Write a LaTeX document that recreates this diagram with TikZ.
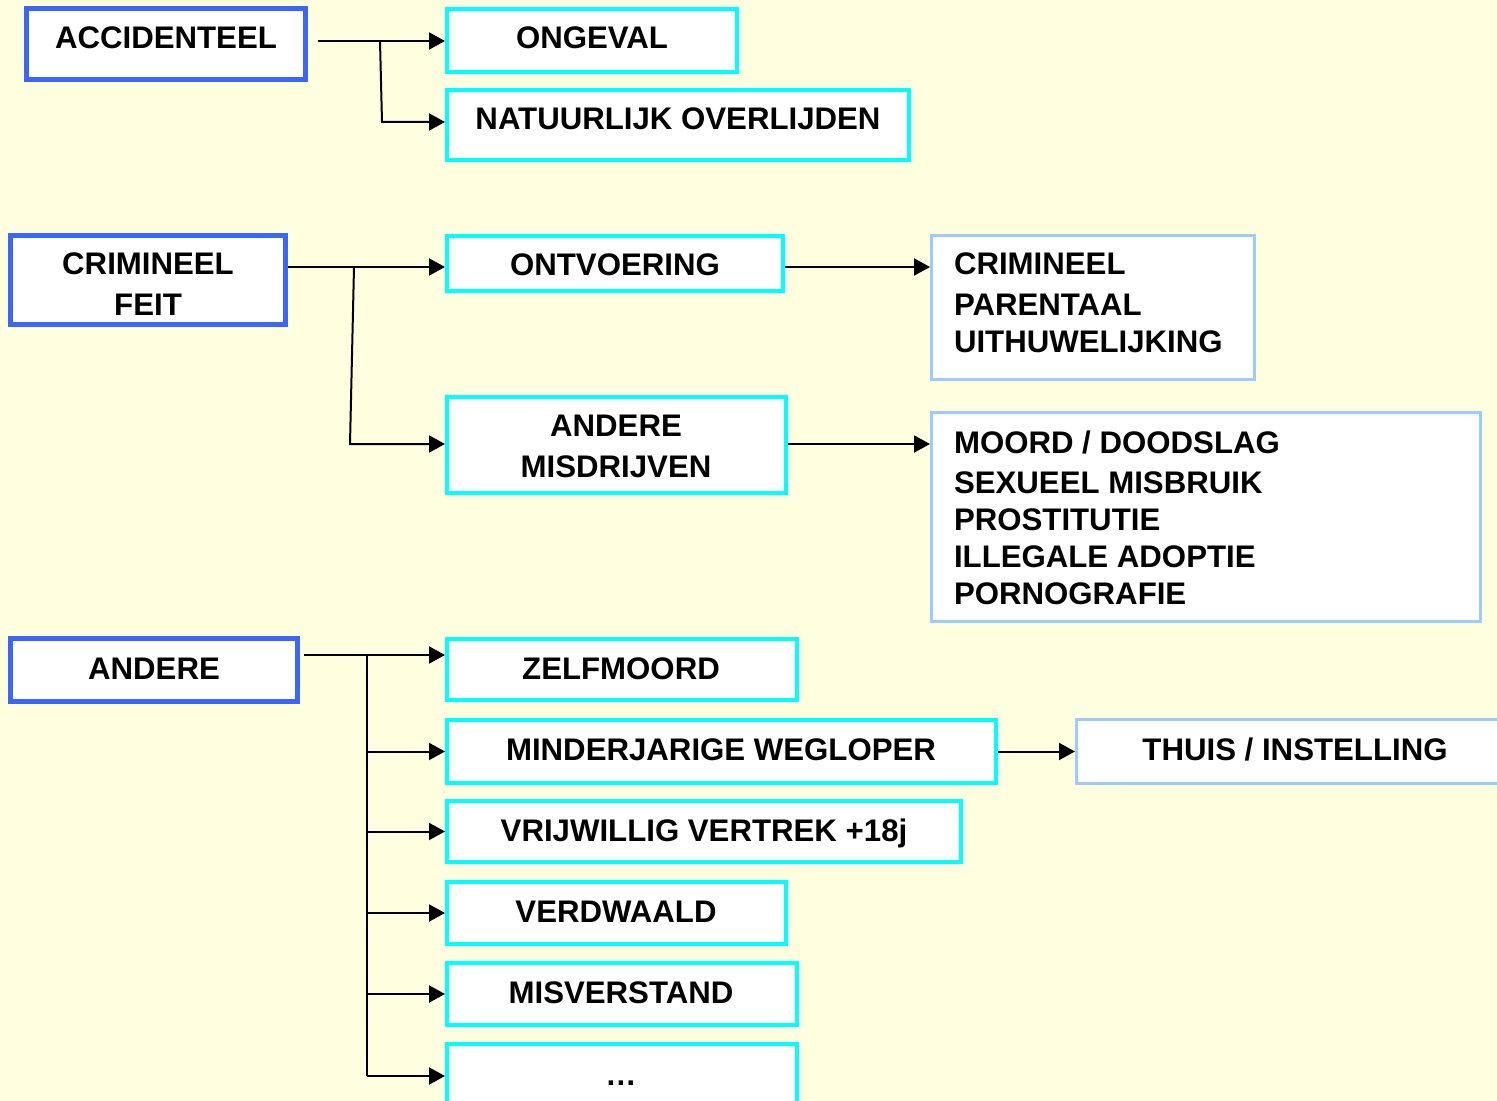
\documentclass[tikz,border=0pt]{standalone}
\usepackage{fontspec}
\setmainfont{Liberation Sans}
\usetikzlibrary{arrows.meta}

\definecolor{paper}{HTML}{FFFFE0}
\definecolor{mainblue}{HTML}{3A66FF}
\definecolor{subcyan}{HTML}{00FFFF}
\definecolor{leafblue}{HTML}{99CCFF}

\begin{document}
\begin{tikzpicture}[x=0.5pt, y=-0.5pt, line width=1pt,
  >={Triangle[length=8pt,width=8.5pt]},
  main/.style={draw=mainblue, line width=2.5pt, fill=white, inner sep=0pt},
  sub/.style={draw=subcyan, line width=2pt, fill=white, inner sep=0pt},
  leaf/.style={draw=leafblue, line width=1.5pt, fill=white, inner sep=0pt},
  txt/.style={font=\fontsize{15.6}{18}\selectfont\bfseries, inner sep=0pt, anchor=base},
  ltxt/.style={txt, anchor=base west}]
  \clip (0,0) rectangle (1497,1101);
  \fill[paper] (0,0) rectangle (1497,1101);

  % accidenteel
  \node[main, minimum width=139.5pt, minimum height=35.5pt] (acc) at (166,44) {};
  \node[sub, minimum width=145pt, minimum height=31.5pt] (ong) at (592,40.5) {};
  \node[sub, minimum width=231pt, minimum height=35pt] (nat) at (678,125) {};
  \node[txt] (acct) at (166,49) {ACCIDENTEEL};
  \node[txt] (ongt) at (592,49) {ONGEVAL};
  \node[txt] (natt) at (678,130) {NATUURLIJK OVERLIJDEN};

  \coordinate (accout) at (318,41);
  \coordinate (acctop) at (380,41);
  \coordinate (accbot) at (382,122);
  \draw[->] (accout) -- (accout -| ong.west);
  \draw[->] (acctop) -- (accbot) -- (accbot -| nat.west);

  % crimineel feit
  \node[main, minimum width=137.5pt, minimum height=44.5pt] (crim) at (148,280) {};
  \node[sub, minimum width=168pt, minimum height=27.5pt] (ontv) at (615,263.5) {};
  \node[leaf, minimum width=161.5pt, minimum height=72pt] (ontvres) at (1093,307.5) {};
  \node[sub, minimum width=169.5pt, minimum height=48pt] (misd) at (616.5,445) {};
  \node[leaf, minimum width=274.5pt, minimum height=104.5pt] (misdres) at (1206,517) {};
  \node[txt] (crimt1) at (148,275) {CRIMINEEL};
  \node[txt] (crimt2) at (148,315) {FEIT};
  \node[txt] (ontvt) at (615,276) {ONTVOERING};
  \node[txt] (misdt1) at (616,436) {ANDERE};
  \node[txt] (misdt2) at (616,477) {MISDRIJVEN};
  \foreach \y/\t [count=\i] in {275/CRIMINEEL, 315/PARENTAAL, 352/UITHUWELIJKING}
    \node[ltxt] (ontvres\i) at (953,\y) {\t};
  \foreach \y/\t [count=\i] in {453/{MOORD / DOODSLAG}, 493/SEXUEEL MISBRUIK,
      530/PROSTITUTIE, 567/ILLEGALE ADOPTIE, 604/PORNOGRAFIE}
    \node[ltxt] (misdres\i) at (953,\y) {\t};

  \coordinate (crimtop) at (354,267);
  \coordinate (crimbot) at (350,444);
  \draw[->] (crim.east |- crimtop) -- (crimtop -| ontv.west);
  \draw[->] (crimtop) -- (crimbot) -- (crimbot -| misd.west);
  \draw[->] (ontv.east |- crimtop) -- (crimtop -| ontvres.west);
  \draw[->] (misd.east |- crimbot) -- (crimbot -| misdres.west);

  % andere
  \node[main, minimum width=143.5pt, minimum height=31.5pt] (and) at (154,670) {};
  \node[sub, minimum width=175pt, minimum height=30.5pt] (zelf) at (622,669.5) {};
  \node[sub, minimum width=274.5pt, minimum height=31.5pt] (mind) at (721.5,751.5) {};
  \node[leaf, minimum width=218.5pt, minimum height=32pt] (thuis) at (1295,751.5) {};
  \node[sub, minimum width=257pt, minimum height=30.5pt] (vrij) at (704,831.5) {};
  \node[sub, minimum width=169.5pt, minimum height=31pt] (verd) at (616.5,913) {};
  \node[sub, minimum width=175pt, minimum height=31pt] (misv) at (622,994) {};
  \node[sub, minimum width=175pt, minimum height=32pt] (dots) at (622,1076) {};
  \node[txt] (andt) at (154,679) {ANDERE};
  \node[txt] (zelft) at (621,679) {ZELFMOORD};
  \node[txt] (mindt) at (721,760) {MINDERJARIGE WEGLOPER};
  \node[txt] (thuist) at (1295,760) {THUIS / INSTELLING};
  \node[txt] (vrijt) at (704,841) {VRIJWILLIG VERTREK +18j};
  \node[txt] (verdt) at (616,922) {VERDWAALD};
  \node[txt] (misvt) at (621,1003) {MISVERSTAND};
  \node[txt] (dotst) at (621,1085) {\textellipsis};

  \coordinate (andout) at (304,655);
  \coordinate (andtop) at (367,655);
  \coordinate (andbot) at (367,1076);
  \draw[->] (andout) -- (andout -| zelf.west);
  \draw (andtop) -- (andbot);
  \foreach \n in {mind, vrij, verd, misv, dots}
    \draw[->] (andtop |- \n.west) -- (\n.west);
  \draw[->] (mind.east) -- (thuis.west);
\end{tikzpicture}
\end{document}
